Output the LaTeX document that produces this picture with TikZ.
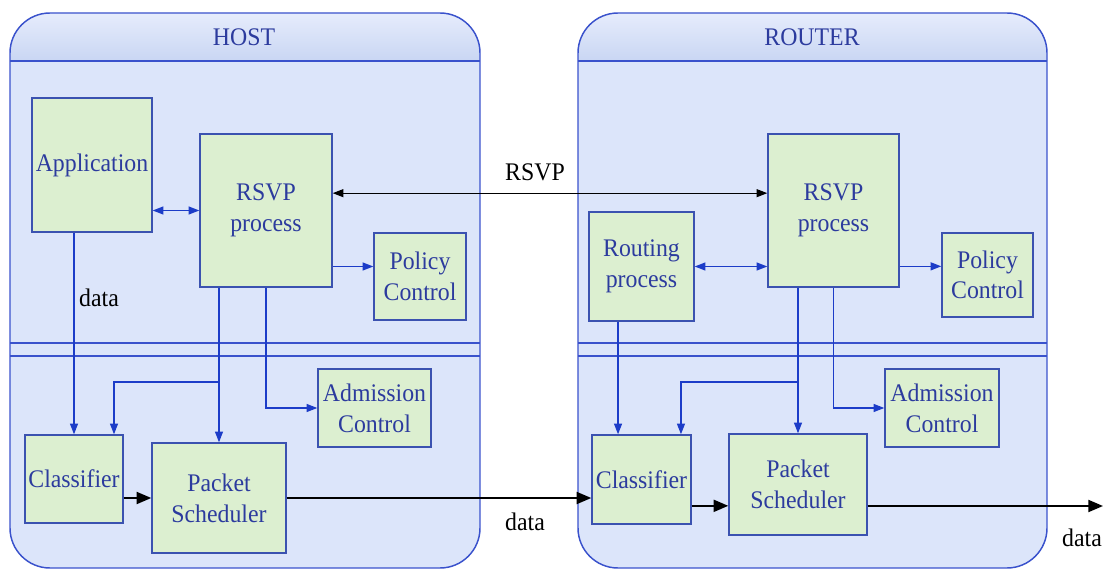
\documentclass[tikz,border=0pt]{standalone}
\usepackage{fontspec}
\setmainfont{Liberation Serif}
\newfontfamily\diagfont{Liberation Serif}[FakeStretch=0.94]
\usetikzlibrary{arrows.meta,calc}

\definecolor{bodyblue}{HTML}{DCE5FA}
\definecolor{headtop}{HTML}{E6ECFC}
\definecolor{headbot}{HTML}{C9D6F3}
\definecolor{frameblue}{HTML}{3A52CC}
\definecolor{boxgreen}{HTML}{DCEFD0}
\definecolor{boxline}{HTML}{3B52B0}
\definecolor{txtblue}{HTML}{2C3B9E}
\definecolor{arrblue}{HTML}{1C3CC8}

\tikzset{
  sz/.style 2 args={minimum width=#1*0.75pt, minimum height=#2*0.75pt},
  blockbox/.style={draw=boxline, fill=boxgreen, line width=1.1pt, inner sep=1pt,
    align=center, text=txtblue, font=\diagfont\fontsize{19}{23}\selectfont},
  frameline/.style={draw=frameblue, line width=1.1pt},
  title/.style={text=txtblue, font=\diagfont\fontsize{19}{22}\selectfont},
  lbl/.style={text=black, font=\diagfont\fontsize{19}{22}\selectfont},
  ctrl/.style={draw=arrblue, line width=0.9pt},
  ctrlarrow/.style={ctrl, -{Triangle[length=8pt,width=6pt]}},
  ctrlboth/.style={ctrl, {Triangle[length=8pt,width=6pt]}-{Triangle[length=8pt,width=6pt]}},
  sigboth/.style={draw=black, line width=0.8pt,
    {Triangle[length=8pt,width=6pt]}-{Triangle[length=8pt,width=6pt]}},
  dataflow/.style={draw=black, line width=1.5pt, -{Triangle[length=11pt,width=9pt]}},
}

\begin{document}
\begin{tikzpicture}[x=0.75pt,y=-0.75pt]
\useasboundingbox (0,0) rectangle (1103,570);

% ---------- containers ----------
\foreach \xl/\xr in {10/480, 578/1047}{
  \begin{scope}
    \clip[rounded corners=30pt] (\xl,13) rectangle (\xr,568);
    \fill[bodyblue] (\xl,13) rectangle (\xr,568);
    \shade[top color=headtop, bottom color=headbot] (\xl,13) rectangle (\xr,61);
  \end{scope}
  \draw[frameline, rounded corners=30pt] (\xl,13) rectangle (\xr,568);
  \draw[frameline] (\xl,61) -- (\xr,61);
  \draw[frameline] (\xl,343) -- (\xr,343);
  \draw[frameline] (\xl,356) -- (\xr,356);
}
\node[title] (hosttitle) at (244,37) {HOST};
\node[title] (routertitle) at (812,37) {ROUTER};

% ---------- host blocks ----------
\node[blockbox, sz={120}{134}] (app)   at (92,165)    {Application};
\node[blockbox, sz={132}{153}] (hrsvp) at (266,210.5) {RSVP\\process};
\node[blockbox, sz={92}{87}]   (hpol)  at (420,276.5) {Policy\\Control};
\node[blockbox, sz={113}{78}]  (hadm)  at (374.5,408) {Admission\\Control};
\node[blockbox, sz={98}{88}]   (hcls)  at (74,479)    {Classifier};
\node[blockbox, sz={134}{110}] (hps)   at (219,498)   {Packet\\Scheduler};

% ---------- router blocks ----------
\node[blockbox, sz={131}{153}] (rrsvp) at (833.5,210.5) {RSVP\\process};
\node[blockbox, sz={105}{109}] (rout)  at (641.5,266.5) {Routing\\process};
\node[blockbox, sz={91}{84}]   (rpol)  at (987.5,275)   {Policy\\Control};
\node[blockbox, sz={114}{78}]  (radm)  at (942,408)     {Admission\\Control};
\node[blockbox, sz={99}{89}]   (rcls)  at (641.5,479.5) {Classifier};
\node[blockbox, sz={138}{101}] (rps)   at (798,484.5)   {Packet\\Scheduler};

% ---------- labels ----------
\node[lbl] (appdata) at (99,298)  {data};
\node[lbl] (rsvplbl) at (535,172) {RSVP};
\node[lbl] (middata) at (525,522) {data};
\node[lbl] (outdata) at (1082,538) {data};

% ---------- host connectors ----------
\draw[ctrlboth] (app.east |- hrsvp.west) -- (hrsvp.west);
\draw[ctrlarrow] ([yshift=7.5pt]hpol.west -| hrsvp.east) -- ([yshift=7.5pt]hpol.west);
\draw[ctrlarrow] (app.south -| hcls.north) -- (hcls.north);
\draw[ctrlarrow] (hrsvp.south -| hps.north) -- (hps.north);
\coordinate (hbranch) at (219,382);
\draw[ctrlarrow] (hbranch) -| ([xshift=30pt]hcls.north);
\draw[ctrlarrow] (hrsvp.south) |- (hadm.west);
\draw[dataflow] (hcls.east |- hps.west) -- (hps.west);

% ---------- between host and router ----------
\draw[sigboth] ([yshift=13pt]hrsvp.east) -- ([yshift=13pt]rrsvp.west);
\draw[dataflow] (hps.east) -- (hps.east -| rcls.west);

% ---------- router connectors ----------
\draw[ctrlboth] (rout.east) -- (rout.east -| rrsvp.west);
\draw[ctrlarrow] ([yshift=6.5pt]rpol.west -| rrsvp.east) -- ([yshift=6.5pt]rpol.west);
\draw[ctrlarrow] ([xshift=-17.6pt]rcls.north |- rout.south) -- ([xshift=-17.6pt]rcls.north);
\draw[ctrlarrow] (rrsvp.south -| rps.north) -- (rps.north);
\coordinate (rbranch) at (798,382);
\draw[ctrlarrow] (rbranch) -| ([xshift=29.6pt]rcls.north);
\draw[ctrlarrow] (rrsvp.south) |- (radm.west);
\draw[dataflow] ([yshift=-16pt]rps.west -| rcls.east) -- ([yshift=-16pt]rps.west);
\coordinate (rout-end) at (1103,506);
\draw[dataflow] (rps.east |- rout-end) -- (rout-end);
\end{tikzpicture}
\end{document}
